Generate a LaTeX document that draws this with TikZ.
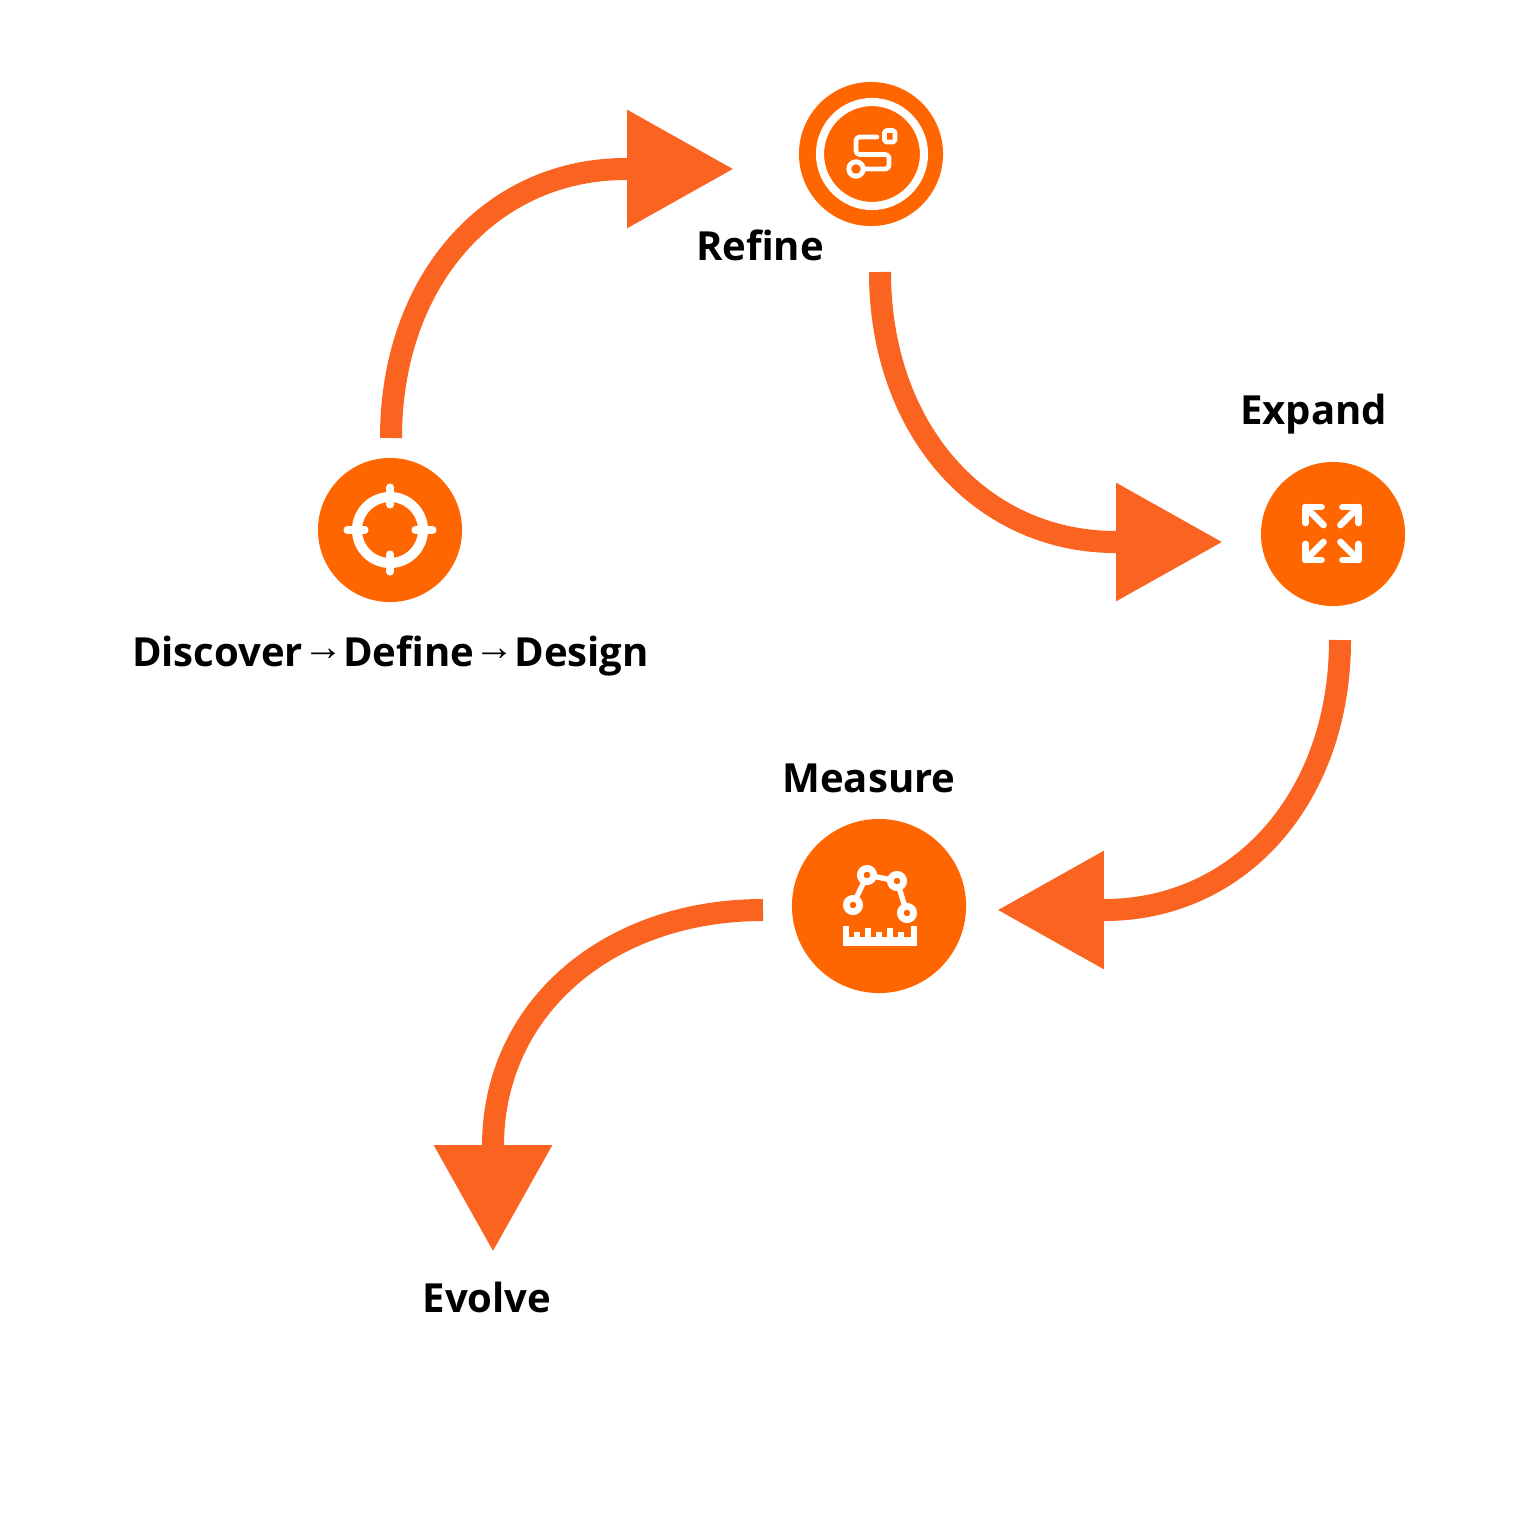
\documentclass[tikz,border=0pt]{standalone}
\usepackage{fontspec}
\setmainfont{Open Sans}
\newfontfamily\arrowfont{Liberation Sans}
\usetikzlibrary{arrows.meta}
\definecolor{discorange}{HTML}{FF6600}
\definecolor{arroworange}{HTML}{FB6320}
\newcommand{\flowsym}{\raisebox{1.7pt}{\arrowfont\mdseries →}}
\tikzset{
  stagedisc/.style={circle, fill=discorange, inner sep=0pt, minimum size=#1},
  stagelabel/.style={font=\fontsize{11.4pt}{13pt}\bfseries, text=black, inner sep=0pt},
  flowarrow/.style={draw=arroworange, line width=6.26pt,
    -{Triangle[length=30.4pt,width=31.9pt,fill=arroworange]}},
  iconline/.style={draw=white, line width=#1, line cap=round, line join=round},
  icondot/.style={circle, draw=white, fill=discorange, line width=1.9pt, inner sep=0pt, minimum size=3.8pt}
}
\begin{document}
\begin{tikzpicture}[x=0.01cm,y=-0.01cm]
  \useasboundingbox (0,0) rectangle (1536,1536);
  \node[stagedisc=1.44cm] (discover) at (390,530) {};
  \node[stagedisc=1.44cm] (refine) at (871,154) {};
  \node[stagedisc=1.44cm] (expand) at (1333,534) {};
  \node[stagedisc=1.74cm] (measure) at (879,906) {};
  \node[stagelabel] (discoverlabel) at (390.5,656) {Discover\flowsym Define\flowsym Design};
  \node[stagelabel] (refinelabel) at (760,245) {Refine};
  \node[stagelabel] (expandlabel) at (1313.5,414) {Expand};
  \node[stagelabel] (measurelabel) at (869,778) {Measure};
  \node[stagelabel] (evolvelabel) at (487,1297) {Evolve};
  % arrows
  \coordinate (a1) at (391,438);
  \coordinate (a1end) at (734,169);
  \coordinate (a2) at (880,272);
  \coordinate (a2end) at (1223,542);
  \coordinate (a3) at (1340,640);
  \coordinate (a3end) at (997,910);
  \coordinate (a4) at (763,910);
  \coordinate (a4end) at (493,1252);
  \draw[flowarrow] (a1) .. controls (391,282) and (489,169) .. (626,169) -- (a1end);
  \draw[flowarrow] (a2) .. controls (880,428) and (979,542) .. (1116,542) -- (a2end);
  \draw[flowarrow] (a3) .. controls (1340,796) and (1241,910) .. (1104,910) -- (a3end);
  \draw[flowarrow] (a4) .. controls (607,910) and (493,1009) .. (493,1146) -- (a4end);
  % target icon
  \draw[draw=white, line width=2.85pt] (discover) circle (33);
  \draw[iconline=2pt] (390,487) -- (390,505);
  \draw[iconline=2pt] (390,554) -- (390,572);
  \draw[iconline=2pt] (347,530) -- (365,530);
  \draw[iconline=2pt] (415,530) -- (433,530);
  % refine icon
  \draw[draw=white, line width=2.3pt] (872,154) circle (52);
  \draw[iconline=1.3pt, rounded corners=0.5pt] (884.5,130.5) rectangle (895,142);
  \draw[iconline=1.3pt, rounded corners=1pt] (877,137) -- (856,137) -- (856,154.5) -- (889,154.5) -- (889,169) -- (865,169);
  \draw[draw=white, line width=1.4pt] (856,169) circle (7.2);
  % expand icon
  \foreach \sx/\sy/\cx/\cy in {-1/-1/1305.5/507, 1/-1/1358.5/507, -1/1/1305.5/560, 1/1/1358.5/560} {
    \draw[iconline=1.9pt] (\cx-\sx*16,\cy) -- (\cx,\cy) -- (\cx,\cy-\sy*16);
    \draw[iconline=1.9pt] (\cx,\cy) -- (\cx-\sx*18,\cy-\sy*18);
  }
  % measure icon
  \draw[draw=white, line width=1.5pt] (853,905) -- (867,875) -- (897,881) -- (907,913);
  \node[icondot] (m1) at (853,905) {};
  \node[icondot] (m2) at (867,875) {};
  \node[icondot] (m3) at (897,881) {};
  \node[icondot] (m4) at (907,913) {};
  \fill[white] (843,937) rectangle (917,946);
  \foreach \tx/\ty in {846/926, 857/932, 868/928, 879/932, 890/928, 901/932, 914/926} {
    \fill[white] (\tx-3,\ty) rectangle (\tx+3,940);
  }
\end{tikzpicture}
\end{document}
